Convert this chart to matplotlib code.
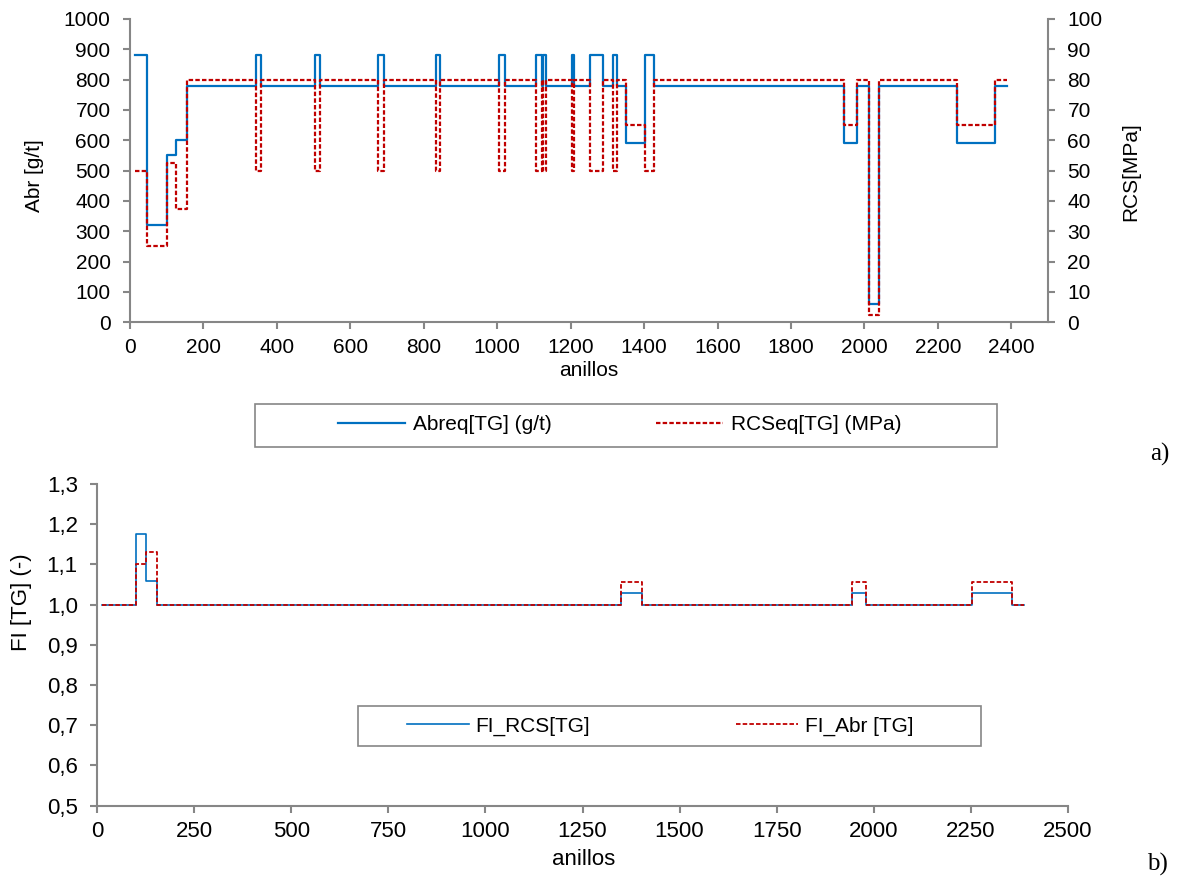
#Two stacked step charts: Abr / RCS along the rings (a) and FI factors (b)

# importing required libraries
import matplotlib.pyplot as plt
from matplotlib.patches import Rectangle
from matplotlib.ticker import FuncFormatter

plt.rcParams['font.family'] = ['Liberation Sans', 'DejaVu Sans']

# data for chart a): ring where each step starts, and the value held from there on
anillos_a = [13, 45, 100, 125, 155, 342, 356, 505, 518, 675, 691, 832, 845,
             1006, 1020, 1106, 1122, 1126, 1134, 1204, 1208, 1253, 1288, 1316,
             1326, 1350, 1403, 1427, 1944, 1981, 2012, 2039, 2253, 2357, 2388]
abr_eq = [880, 320, 550, 600, 780, 880, 780, 880, 780, 880, 780, 880, 780,
          880, 780, 880, 780, 880, 780, 880, 780, 880, 780, 880,
          780, 590, 880, 780, 590, 780, 60, 780, 590, 780, 780]
rcs_eq = [50, 25, 52.5, 37.5, 80, 50, 80, 50, 80, 50, 80, 50, 80,
          50, 80, 50, 80, 50, 80, 50, 80, 50, 80, 50,
          80, 65, 50, 80, 65, 80, 2.5, 80, 65, 80, 80]

# data for chart b)
anillos_b = [12, 100, 125, 155, 1350, 1403, 1944, 1981, 2253, 2357, 2388]
fi_rcs = [1.0, 1.175, 1.06, 1.0, 1.028, 1.0, 1.028, 1.0, 1.028, 1.0, 1.0]
fi_abr = [1.0, 1.10, 1.13, 1.0, 1.056, 1.0, 1.056, 1.0, 1.056, 1.0, 1.0]

blue = '#0070C0'
red = '#C00000'
grey = '#868686'
W, H = 1179, 880


# helper: style of the gray axis lines and ticks
def style_axis(ax, spines, fs):
    for s in ['top', 'right', 'left', 'bottom']:
        ax.spines[s].set_visible(s in spines)
        ax.spines[s].set_color(grey)
        ax.spines[s].set_linewidth(1.5)
    ax.tick_params(direction='out', length=5, width=1.5, color=grey, labelsize=fs)
    ax.tick_params(axis='x', pad=6)
    ax.tick_params(axis='y', pad=9)


fig = plt.figure(figsize=(W / 100, H / 100), dpi=100)

# ---------- a) ----------
ax1 = fig.add_axes([130 / W, 1 - 322.3 / H, 918 / W, 303.3 / H])
ax1.step(anillos_a, abr_eq, where='post', color=blue, lw=1.6)
ax1.set_xlim(0, 2500)
ax1.set_ylim(0, 1000)
ax1.set_xticks(range(0, 2401, 200))
ax1.set_yticks(range(0, 1001, 100))
style_axis(ax1, ['left', 'bottom'], 15)

ax2 = ax1.twinx()
ax2.step(anillos_a, rcs_eq, where='post', color=red, lw=1.6, linestyle=(0, (2, 1)))
ax2.set_ylim(0, 100)
ax2.set_yticks(range(0, 101, 10))
style_axis(ax2, ['right'], 15)
ax2.spines['left'].set_visible(False)
ax2.spines['bottom'].set_visible(False)

fig.text(35 / W, 1 - 176 / H, 'Abr [g/t]', rotation=90, ha='center', va='center', fontsize=15)
fig.text(1131 / W, 1 - 172 / H, 'RCS[MPa]', rotation=90, ha='center', va='center', fontsize=15)
fig.text(589 / W, 1 - 370 / H, 'anillos', ha='center', va='center', fontsize=15)

# legend a) with its own box
fig.patches.append(Rectangle((255 / W, 1 - 447 / H), 742 / W, 43 / H, transform=fig.transFigure,
                             facecolor='white', edgecolor=grey, lw=1.2, zorder=3))
h1, = ax1.plot([], [], color=blue, lw=1.6)
h2, = ax1.plot([], [], color=red, lw=1.6, linestyle=(0, (2, 1)))
fig.legend([h1, h2], ['Abreq[TG] (g/t)', 'RCSeq[TG] (MPa)'], loc='center left',
           bbox_to_anchor=(338 / W, 1 - 425 / H), ncol=2, frameon=False, fontsize=15,
           handlelength=3.2, handletextpad=0.4, columnspacing=5.0, borderpad=0,
           borderaxespad=0)

fig.text(1160 / W, 1 - 454 / H, 'a)', ha='center', va='center', fontsize=18,
         family=['Liberation Serif', 'DejaVu Serif'])

# ---------- b) ----------
ax3 = fig.add_axes([97.3 / W, 1 - 805.7 / H, 970.4 / W, 321.7 / H])
ax3.step(anillos_b, fi_rcs, where='post', color=blue, lw=1.2)
ax3.step(anillos_b, fi_abr, where='post', color=red, lw=1.3, linestyle=(0, (2.5, 1.2)))
ax3.set_xlim(0, 2500)
ax3.set_ylim(0.5, 1.3)
ax3.set_xticks(range(0, 2501, 250))
ax3.set_yticks([0.5, 0.6, 0.7, 0.8, 0.9, 1.0, 1.1, 1.2, 1.3])
ax3.yaxis.set_major_formatter(FuncFormatter(lambda v, p: f'{v:.1f}'.replace('.', ',')))
style_axis(ax3, ['left', 'bottom'], 16)

fig.text(22 / W, 1 - 602 / H, 'FI [TG] (-)', rotation=90, ha='center', va='center', fontsize=16)
fig.text(584 / W, 1 - 859 / H, 'anillos', ha='center', va='center', fontsize=16)

# legend b)
fig.patches.append(Rectangle((358 / W, 1 - 746 / H), 623 / W, 40 / H, transform=fig.transFigure,
                             facecolor='white', edgecolor=grey, lw=1.2, zorder=3))
h3, = ax3.plot([], [], color=blue, lw=1.2)
h4, = ax3.plot([], [], color=red, lw=1.3, linestyle=(0, (2.5, 1.2)))
fig.legend([h3, h4], ['FI_RCS[TG]', 'FI_Abr [TG]'], loc='center',
           bbox_to_anchor=(660 / W, 1 - 726 / H), ncol=2, frameon=False, fontsize=15,
           handlelength=3.0, handletextpad=0.3, columnspacing=7.0, borderpad=0,
           borderaxespad=0)

fig.text(1157 / W, 1 - 864 / H, 'b)', ha='center', va='center', fontsize=18,
         family=['Liberation Serif', 'DejaVu Serif'])

fig.savefig('out.png', dpi=100)
